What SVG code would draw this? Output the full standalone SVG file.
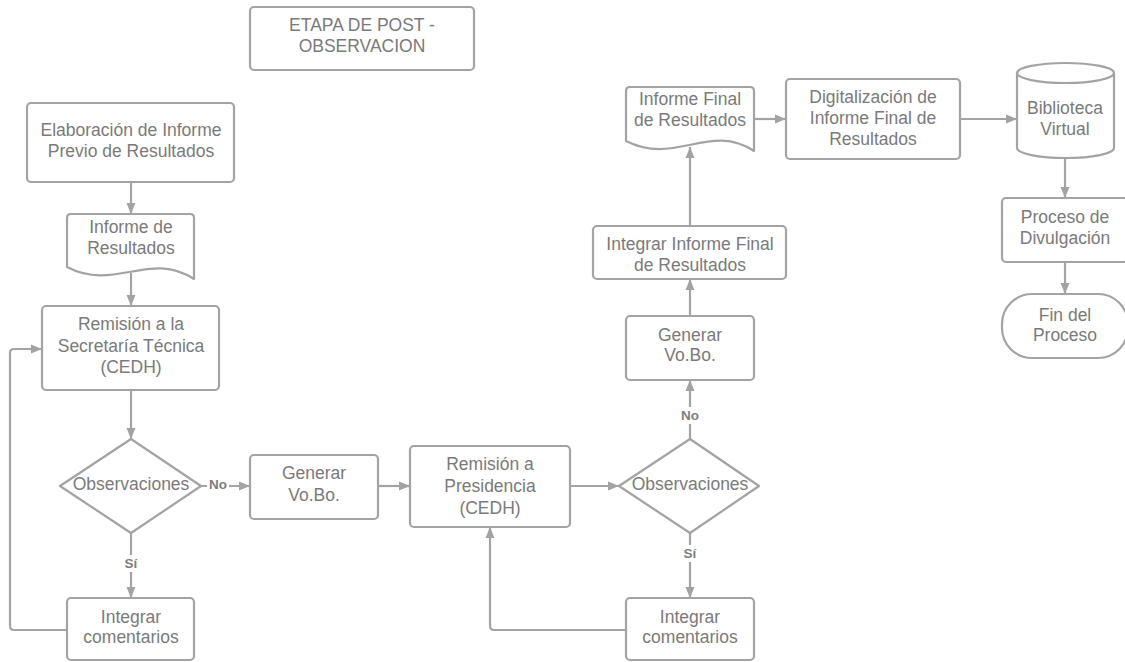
<svg xmlns="http://www.w3.org/2000/svg" width="1125" height="662" viewBox="0 0 1125 662">
<style>
.s{fill:#fff;stroke:#a3a3a3;stroke-width:2.2;stroke-linejoin:round}
.t{font-family:"Liberation Sans",Arial,sans-serif;font-size:17.5px;fill:#7a7a7a;text-anchor:middle}
.c{fill:none;stroke:#a3a3a3;stroke-width:2.2;stroke-linejoin:round}
.l{font-family:"Liberation Sans",Arial,sans-serif;font-size:13.5px;font-weight:bold;fill:#7d7d7d;text-anchor:middle}
</style>
<defs>
<marker id="a" markerUnits="userSpaceOnUse" markerWidth="12" markerHeight="10" refX="11" refY="5" orient="auto">
<path d="M0,0.5 L11,5 L0,9.5 Z" fill="#a3a3a3"/>
</marker>
</defs>
<rect width="1125" height="662" fill="#fff"/>
<g id="connectors">
<path class="c" d="M131,182 V214" marker-end="url(#a)"/>
<path class="c" d="M131,273 V306" marker-end="url(#a)"/>
<path class="c" d="M131,390 V439" marker-end="url(#a)"/>
<path class="c" d="M201,486 H250" marker-end="url(#a)"/>
<path class="c" d="M131,533 V598" marker-end="url(#a)"/>
<path class="c" d="M67,630 H14 Q10,630 10,626 V353 Q10,349 14,349 H42" marker-end="url(#a)"/>
<path class="c" d="M378,486 H410" marker-end="url(#a)"/>
<path class="c" d="M570,486 H619" marker-end="url(#a)"/>
<path class="c" d="M690,439 V380" marker-end="url(#a)"/>
<path class="c" d="M690,533 V598" marker-end="url(#a)"/>
<path class="c" d="M626,630 H494 Q490,630 490,626 V527" marker-end="url(#a)"/>
<path class="c" d="M690,316 V279" marker-end="url(#a)"/>
<path class="c" d="M690,226 V147" marker-end="url(#a)"/>
<path class="c" d="M754,119 H786" marker-end="url(#a)"/>
<path class="c" d="M960,119 H1017" marker-end="url(#a)"/>
<path class="c" d="M1065,158 V198" marker-end="url(#a)"/>
<path class="c" d="M1065,262 V294" marker-end="url(#a)"/>
<rect x="207" y="476" width="22" height="17" fill="#fff"/>
<text class="l" x="218" y="489">No</text>
<rect x="121" y="555" width="20" height="17" fill="#fff"/>
<text class="l" x="131" y="568">Sí</text>
<rect x="679" y="407" width="22" height="17" fill="#fff"/>
<text class="l" x="690" y="420">No</text>
<rect x="680" y="545" width="20" height="17" fill="#fff"/>
<text class="l" x="690" y="558">Sí</text>
</g>
<g id="title">
<rect class="s" x="250" y="7" width="224" height="63" rx="4"/>
<text class="t" x="362" y="31">ETAPA DE POST -</text>
<text class="t" x="362" y="52">OBSERVACION</text>
</g>
<g id="elaboracion">
<rect class="s" x="27" y="103" width="207" height="79" rx="4"/>
<text class="t" x="131" y="136">Elaboración de Informe</text>
<text class="t" x="131" y="157">Previo de Resultados</text>
</g>
<g id="informe-resultados">
<path class="s" d="M67,267 V218 Q67,214 71,214 H190 Q194,214 194,218 V279 C150,250 115,292 67,267 Z"/>
<text class="t" x="131" y="233">Informe de</text>
<text class="t" x="131" y="254">Resultados</text>
</g>
<g id="remision-secretaria">
<rect class="s" x="42" y="306" width="177" height="84" rx="4"/>
<text class="t" x="131" y="330">Remisión a la</text>
<text class="t" x="131" y="352">Secretaría Técnica</text>
<text class="t" x="131" y="373">(CEDH)</text>
</g>
<g id="observaciones-1">
<polygon class="s" points="131,439 201,486 131,533 60,486"/>
<text class="t" x="131" y="490">Observaciones</text>
</g>
<g id="integrar-comentarios-1">
<rect class="s" x="67" y="598" width="127" height="62" rx="4"/>
<text class="t" x="131" y="623">Integrar</text>
<text class="t" x="131" y="643">comentarios</text>
</g>
<g id="generar-vobo-1">
<rect class="s" x="250" y="455" width="128" height="64" rx="4"/>
<text class="t" x="314" y="479">Generar</text>
<text class="t" x="314" y="501">Vo.Bo.</text>
</g>
<g id="remision-presidencia">
<rect class="s" x="410" y="446" width="160" height="81" rx="4"/>
<text class="t" x="490" y="470">Remisión a</text>
<text class="t" x="490" y="492">Presidencia</text>
<text class="t" x="490" y="514">(CEDH)</text>
</g>
<g id="observaciones-2">
<polygon class="s" points="690,439 759,486 690,533 619,486"/>
<text class="t" x="690" y="490">Observaciones</text>
</g>
<g id="integrar-comentarios-2">
<rect class="s" x="626" y="598" width="128" height="62" rx="4"/>
<text class="t" x="690" y="623">Integrar</text>
<text class="t" x="690" y="643">comentarios</text>
</g>
<g id="generar-vobo-2">
<rect class="s" x="626" y="316" width="128" height="64" rx="4"/>
<text class="t" x="690" y="341">Generar</text>
<text class="t" x="690" y="361">Vo.Bo.</text>
</g>
<g id="integrar-informe-final">
<rect class="s" x="593" y="226" width="193" height="53" rx="4"/>
<text class="t" x="690" y="250">Integrar Informe Final</text>
<text class="t" x="690" y="271">de Resultados</text>
</g>
<g id="informe-final">
<path class="s" d="M626,141 V91 Q626,87 630,87 H750 Q754,87 754,91 V151 C710,122 675,166 626,141 Z"/>
<text class="t" x="690" y="105">Informe Final</text>
<text class="t" x="690" y="126">de Resultados</text>
</g>
<g id="digitalizacion">
<rect class="s" x="786" y="79" width="174" height="80" rx="4"/>
<text class="t" x="873" y="103">Digitalización de</text>
<text class="t" x="873" y="124">Informe Final de</text>
<text class="t" x="873" y="145">Resultados</text>
</g>
<g id="biblioteca-virtual">
<path class="s" d="M1017,73 A48.5,10 0 0 1 1114,73 V148 A48.5,10 0 0 1 1017,148 Z"/>
<path class="c" d="M1017,73 A48.5,10 0 0 0 1114,73"/>
<text class="t" x="1065" y="114">Biblioteca</text>
<text class="t" x="1065" y="135">Virtual</text>
</g>
<g id="proceso-divulgacion">
<rect class="s" x="1002" y="198" width="126" height="64" rx="4"/>
<text class="t" x="1065" y="223">Proceso de</text>
<text class="t" x="1065" y="244">Divulgación</text>
</g>
<g id="fin-proceso">
<rect class="s" x="1002" y="294" width="126" height="64" rx="30"/>
<text class="t" x="1065" y="321">Fin del</text>
<text class="t" x="1065" y="341">Proceso</text>
</g>
</svg>
